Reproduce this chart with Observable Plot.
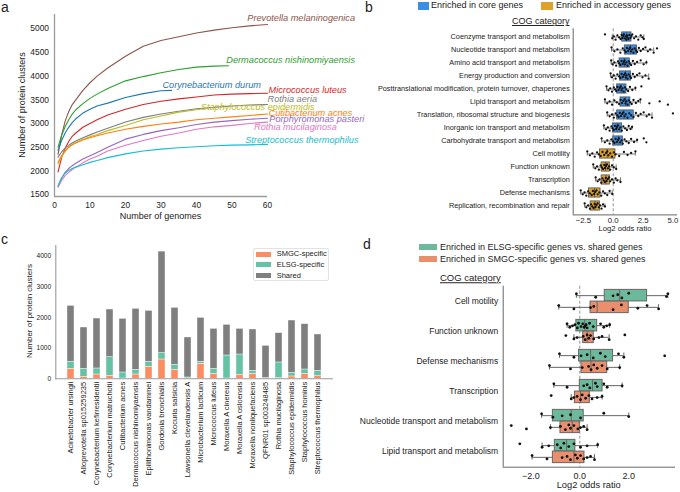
<!DOCTYPE html>
<html><head><meta charset="utf-8">
<script src="https://cdn.jsdelivr.net/npm/d3@7"></script>
<script src="https://cdn.jsdelivr.net/npm/@observablehq/plot@0.6"></script>
<style>
body{margin:0;background:#fff;font-family:"Liberation Sans",Arial,sans-serif;color:#222;}
#fig{position:relative;width:680px;height:492px;overflow:hidden;background:#fff;}
.abs{position:absolute;white-space:nowrap;line-height:1;}
.panel{position:absolute;}
.panel svg{overflow:visible;display:block;}
</style></head><body><div id="fig"></div>
<script>
// ---------- Panel a: accumulation curves ----------
const speciesA = ["Prevotella melaninogenica","Dermacoccus nishinomiyaensis","Corynebacterium durum","Micrococcus luteus","Rothia aeria","Staphylococcus epidermidis","Cutibacterium acnes","Porphyromonas pasteri","Rothia mucilaginosa","Streptococcus thermophilus"];
const colorsA = ["#8c564b","#2ca02c","#1f77b4","#d62728","#7f7f7f","#bcbd22","#ff7f0e","#9467bd","#e377c2","#17becf"];
const curveX = [1,2,3,4,5,6,8,10,12,15,20,25,30,35,40,45,50,55,60];
const maxGenomes = [60,49,33,60,60,41,60,60,60,60];
const prevotellaY = [2350,2750,3050,3250,3400,3500,3700,3860,4000,4170,4420,4630,4750,4830,4910,4970,5020,5060,5090];
const dermacoccusY = [2500,2750,2930,3080,3200,3290,3420,3530,3620,3740,3900,3990,4070,4140,4190,4210,4220];
const corynebacteriumY = [2430,2640,2800,2920,3020,3100,3220,3300,3370,3430,3550,3630,3690,3700];
const micrococcusY = [1980,2280,2480,2620,2730,2800,2920,3000,3080,3180,3300,3400,3470,3520,3560,3600,3620,3630,3640];
const rothiaAeriaY = [2290,2400,2480,2540,2590,2630,2700,2760,2820,2900,3030,3130,3200,3260,3310,3340,3370,3390,3400];
const staphEpiY = [2150,2300,2420,2500,2560,2600,2670,2720,2770,2850,2960,3080,3160,3240,3290,3295];
const cutibacteriumY = [2180,2320,2420,2500,2550,2590,2650,2700,2740,2800,2880,2940,2990,3030,3080,3110,3140,3170,3200];
const porphyromonasY = [1660,1850,1970,2050,2110,2160,2250,2320,2390,2500,2670,2770,2850,2910,2980,3030,3060,3090,3110];
const rothiaMucY = [1660,1800,1900,1970,2030,2080,2170,2250,2310,2420,2540,2640,2730,2800,2880,2930,2960,3000,3030];
const streptococcusY = [1690,1850,1950,2010,2050,2080,2130,2180,2220,2280,2360,2420,2460,2490,2510,2530,2545,2550,2560];
const curvesA = [prevotellaY,dermacoccusY,corynebacteriumY,micrococcusY,rothiaAeriaY,staphEpiY,cutibacteriumY,porphyromonasY,rothiaMucY,streptococcusY];
const labelXA = [54.3,48.4,30.4,60.3,60.0,41.2,60.3,60.5,56.2,53.7];
const labelYA = [5232,4330,3817,3712,3513,3344,3226,3091,2922,2656];
const aXDomain = [0,60];
const aYDomain = [1460,5300];
const aXTicks = [0,10,20,30,40,50,60];
const aYTicks = [1500,2000,2500,3000,3500,4000,4500,5000];

// ---------- Panel b: COG enrichment core vs accessory ----------
const cogB = ["Coenzyme transport and metabolism","Nucleotide transport and metabolism","Amino acid transport and metabolism","Energy production and conversion","Posttranslational modification, protein turnover, chaperones","Lipid transport and metabolism","Translation, ribosomal structure and biogenesis","Inorganic ion transport and metabolism","Carbohydrate transport and metabolism","Cell motility","Function unknown","Transcription","Defense mechanisms","Replication, recombination and repair"];
const groupB = ["Enriched in core genes","Enriched in core genes","Enriched in core genes","Enriched in core genes","Enriched in core genes","Enriched in core genes","Enriched in core genes","Enriched in core genes","Enriched in core genes","Enriched in accessory genes","Enriched in accessory genes","Enriched in accessory genes","Enriched in accessory genes","Enriched in accessory genes"];
const groupsB = ["Enriched in core genes","Enriched in accessory genes"];
const colorsB = ["#3b8ee2","#dea12a"];
const bQ1 = [0.75,0.97,0.53,0.56,0.33,0.61,0.33,-0.03,0.0,-1.11,-0.97,-0.97,-2.03,-1.89];
const bMed = [1.11,1.44,0.94,1.03,0.67,1.03,0.89,0.33,0.42,-0.5,-0.64,-0.61,-1.56,-1.53];
const bQ3 = [1.53,2.0,1.39,1.5,1.11,1.44,1.72,0.75,0.81,0.19,-0.28,-0.28,-1.06,-1.11];
const bLo = [-0.08,-0.14,-0.17,-0.22,-0.56,-0.69,-0.5,-0.78,-0.97,-2.17,-1.67,-1.47,-2.72,-2.39];
const bHi = [2.56,3.39,2.78,2.97,1.86,2.28,3.25,1.58,2.0,1.86,0.25,0.61,-0.08,-0.69];
const bPoints = [
 [-0.69,-0.08,0.05,0.2,0.35,0.5,0.62,0.7,0.78,0.85,0.9,0.98,1.05,1.1,1.15,1.2,1.28,1.35,1.45,1.52,1.6,1.75,1.9,2.1,2.3,2.45,2.56],
 [-0.14,0.1,0.35,0.6,0.8,0.95,1.05,1.15,1.25,1.35,1.42,1.5,1.6,1.7,1.8,1.9,2.0,2.15,2.3,2.5,2.7,2.9,3.1,3.39,3.67],
 [-0.17,-0.05,0.1,0.25,0.4,0.5,0.6,0.7,0.8,0.88,0.95,1.0,1.1,1.2,1.3,1.38,1.5,1.65,1.8,2.0,2.3,2.55,2.78],
 [-0.22,-0.1,0.05,0.2,0.35,0.5,0.6,0.7,0.8,0.9,1.0,1.05,1.12,1.2,1.3,1.4,1.5,1.65,1.8,2.0,2.2,2.45,2.7,2.97],
 [-0.56,-0.4,-0.25,-0.1,0.05,0.15,0.25,0.35,0.45,0.55,0.62,0.7,0.78,0.88,0.98,1.1,1.25,1.4,1.6,1.86,2.36],
 [-0.69,-0.5,-0.3,-0.1,0.1,0.3,0.5,0.62,0.75,0.85,0.95,1.03,1.1,1.2,1.3,1.42,1.55,1.7,1.9,2.1,2.28,3.03,3.89,4.58],
 [-0.5,-0.3,-0.1,0.05,0.2,0.35,0.45,0.55,0.65,0.75,0.85,0.95,1.05,1.2,1.35,1.5,1.7,1.9,2.1,2.3,2.55,2.8,3.0,3.25,5.0],
 [-0.78,-0.6,-0.45,-0.3,-0.15,-0.05,0.05,0.15,0.25,0.32,0.4,0.5,0.6,0.72,0.85,1.0,1.15,1.3,1.45,1.58],
 [-0.97,-0.7,-0.5,-0.3,-0.15,0.0,0.1,0.2,0.3,0.4,0.48,0.58,0.7,0.8,0.95,1.1,1.3,1.5,1.75,2.0,2.56,2.78],
 [-2.17,-1.95,-1.75,-1.55,-1.35,-1.2,-1.05,-0.9,-0.75,-0.6,-0.5,-0.4,-0.25,-0.1,0.05,0.2,0.5,0.9,1.2,1.5,1.86],
 [-1.67,-1.5,-1.35,-1.2,-1.05,-0.95,-0.85,-0.75,-0.68,-0.6,-0.52,-0.45,-0.35,-0.25,-0.1,0.05,0.25],
 [-1.47,-1.3,-1.15,-1.0,-0.9,-0.8,-0.7,-0.62,-0.55,-0.45,-0.35,-0.25,-0.1,0.05,0.2,0.35,0.61],
 [-2.72,-2.55,-2.4,-2.25,-2.1,-1.95,-1.8,-1.7,-1.6,-1.5,-1.4,-1.3,-1.15,-1.0,-0.85,-0.7,-0.5,-0.3,-0.08],
 [-2.39,-2.25,-2.1,-1.95,-1.85,-1.75,-1.65,-1.55,-1.48,-1.4,-1.3,-1.2,-1.1,-0.98,-0.85,-0.69]
];
const bXDomain = [-3.35,5.3];
const bXTicks = [-2.5,0,2.5,5];

// ---------- Panel c: stacked bars ----------
const speciesC = ["Acinetobacter ursingii","Alloprevotella sp015259235","Corynebacterium kefirresidentii","Corynebacterium matruchotii","Cutibacterium acnes","Dermacoccus nishinomiyaensis","Epilithonimonas vandammei","Gordonia bronchialis","Kocuria salsicia","Lawsonella clevelandensis A","Microbacterium lacticum","Micrococcus luteus","Moraxella A cinereus","Moraxella A osloensis","Moraxella nonliquefaciens","QFNR01 sp003248485","Rothia mucilaginosa","Staphylococcus epidermidis","Staphylococcus hominis","Streptococcus thermophilus"];
const smgcC = [326,65,141,98,10,141,391,630,293,10,489,163,10,130,163,0,20,76,163,87];
const elsgC = [228,261,196,608,196,152,163,210,163,33,65,163,751,663,98,25,513,120,141,174];
const sharedC = [1826,1348,1630,1555,1751,1990,1663,3312,1859,1305,1435,1304,1000,837,1348,1050,956,1706,1479,1185];
const partsC = ["SMGC-specific","ELSG-specific","Shared"];
const colorsC = ["#fc8d62","#66c2a5","#7f7f7f"];
const cYDomain = [0,4350];
const cYTicks = [0,1000,2000,3000,4000];

// ---------- Panel d: ELSG / SMGC specific vs shared ----------
const cogD = ["Cell motility","Function unknown","Defense mechanisms","Transcription","Nucleotide transport and metabolism","Lipid transport and metabolism"];
const groupsD = ["Enriched in ELSG-specific genes vs. shared genes","Enriched in SMGC-specific genes vs. shared genes"];
const colorsD = ["#6cb99c","#ea8f6e"];
const elsgQ1 = [1.02,-0.14,-0.03,0.0,-1.1,-1.02];
const elsgMed = [1.63,0.2,0.44,0.52,-0.35,-0.54];
const elsgQ3 = [2.75,0.71,1.36,0.93,0.16,-0.18];
const elsgLo = [-0.14,-0.52,-0.83,-1.06,-1.56,-1.54];
const elsgHi = [3.6,1.22,1.8,1.73,2.0,0.73];
const smgcQ1 = [0.44,0.14,0.07,-0.2,-0.79,-1.1];
const smgcMed = [0.71,0.3,0.46,0.03,-0.31,-0.24];
const smgcQ3 = [2.0,0.57,1.12,0.41,0.0,0.19];
const smgcLo = [-0.86,-0.24,-1.24,-0.35,-1.2,-1.95];
const smgcHi = [3.22,1.2,1.63,0.91,0.3,0.6];
const elsgPoints = [
 [-0.14,0.65,1.36,1.55,1.72,2.0,3.54,3.6],
 [-0.52,-0.41,-0.3,-0.2,-0.1,-0.05,0.05,0.12,0.18,0.22,0.26,0.3,0.4,0.55,0.85,0.98,1.1,1.22],
 [-0.83,-0.24,0.05,0.3,0.55,0.84,1.04,1.58,1.8,3.47],
 [-1.06,-0.52,0.16,0.3,0.41,0.64,0.71,0.98,1.12,1.73],
 [-1.56,-1.1,-0.72,-0.38,0.03,0.98,2.0],
 [-2.45,-1.54,-1.27,-0.92,-0.78,-0.65,-0.45,-0.24,0.03,0.3,0.73]
];
const smgcPoints = [
 [-0.86,-0.24,0.44,0.57,1.36,1.7,2.37,2.75,3.22],
 [-0.57,-0.24,-0.11,0.14,0.22,0.3,0.37,0.44,0.57,0.78,0.91,1.2,1.84],
 [-1.24,-0.38,0.1,0.36,0.46,0.57,0.71,0.91,1.12,1.63],
 [-1.17,-0.35,-0.24,-0.11,0.03,0.1,0.24,0.37,0.5,0.71,0.91],
 [-2.8,-2.18,-1.2,-0.79,-0.59,-0.45,-0.38,-0.24,-0.08,0.03,0.16,0.3],
 [-1.95,-1.34,-0.72,-0.52,-0.38,-0.18,-0.1,0.03,0.16,0.3,0.44,0.6]
];
const dXDomain = [-3.13,3.87];
const dXTicks = [-2,0,2];

// ================= rendering =================
const FF = '"Liberation Sans", Arial, sans-serif';
const fig = document.getElementById("fig");
function place(svg, left, top){ const w=document.createElement("div"); w.className="panel"; w.style.left=left+"px"; w.style.top=top+"px"; w.appendChild(svg); fig.appendChild(w); }
function txt(text, x, y, css, center){ const d=document.createElement("div"); d.className="abs"; d.textContent=text; d.style.left=x+"px"; d.style.top=y+"px"; if(center) d.style.transform="translate(-50%,-50%)"; Object.assign(d.style, css||{}); fig.appendChild(d); return d; }
function rect(x,y,w,h,color){ const d=document.createElement("div"); d.className="abs"; Object.assign(d.style,{left:x+"px",top:y+"px",width:w+"px",height:h+"px",background:color}); fig.appendChild(d); return d; }
const baseStyle = {fontFamily:FF, color:"#222", overflow:"visible", background:"transparent"};
const intFmt = d3.format("d");

// ---- a ----
const curveRows = [];
speciesA.forEach((s,k)=>{ const ys=curvesA[k]; ys.forEach((v,i)=>{ const last = i===ys.length-1; curveRows.push({species:s, genomes: last ? maxGenomes[k] : curveX[i], clusters:v}); }); });
const labelRows = speciesA.map((s,k)=>({species:s, x:labelXA[k], y:labelYA[k]}));
const plotA = Plot.plot({
  width:340, height:225, marginLeft:54, marginRight:73, marginTop:14, marginBottom:29,
  style:{...baseStyle, fontSize:"8.4px"},
  x:{domain:aXDomain}, y:{domain:aYDomain},
  color:{domain:speciesA, range:colorsA},
  marks:[
    Plot.ruleX([aXDomain[0]],{stroke:"#9a9a9a",strokeWidth:1.3}),
    Plot.ruleY([aYDomain[0]],{stroke:"#9a9a9a",strokeWidth:1.3}),
    Plot.axisX({ticks:aXTicks, tickSize:0, tickPadding:6, label:null, fontSize:8.4, tickFormat:intFmt}),
    Plot.axisY({ticks:aYTicks, tickSize:0, tickPadding:5.5, label:null, fontSize:8.4, tickFormat:intFmt}),
    Plot.line(curveRows,{x:"genomes",y:"clusters",z:"species",stroke:"species",strokeWidth:1.1}),
    Plot.text(labelRows,{x:"x",y:"y",text:"species",fill:"species",textAnchor:"start",fontStyle:"italic",fontSize:9.2})
  ]
});
place(plotA,0,0);
txt("Number of genomes",160.5,216,{fontSize:"9px"},true);
txt("Number of protein clusters",22,105,{fontSize:"9px",transform:"translate(-50%,-50%) rotate(-90deg)"});

// ---- b ----
const bRows = cogB.map((c,i)=>({cat:c, grp:groupB[i], q1:bQ1[i], med:bMed[i], q3:bQ3[i], lo:bLo[i], hi:bHi[i]}));
const bDots = [];
bPoints.forEach((pts,i)=>pts.forEach((v,j)=>bDots.push({cat:cogB[i], v, j})));
const jitB = [-2.6,1.3,-0.6,2.7,-1.6,0.4,2.0,-2.0,1.0,-1.1];
const bBoxInset = 1.9, bCapInset = 4.4;
const bDotMarks = jitB.map((dy,g)=>Plot.dot(bDots.filter(d=>d.j%jitB.length===g),{x:"v",y:"cat",dy,r:1.15,fill:"#111",stroke:"none"}));
const plotB = Plot.plot({
  width:340, height:240, marginLeft:232.7, marginRight:4, marginTop:28.3, marginBottom:25.6,
  style:{...baseStyle, fontSize:"7.3px"},
  x:{domain:bXDomain}, y:{domain:cogB, padding:0},
  color:{domain:groupsB, range:colorsB},
  marks:[
    Plot.ruleX([0],{stroke:"#777",strokeWidth:0.8,strokeDasharray:"3,2"}),
    Plot.ruleY(bRows,{y:"cat",x1:"lo",x2:"q1",stroke:"#555",strokeWidth:0.8}),
    Plot.ruleY(bRows,{y:"cat",x1:"q3",x2:"hi",stroke:"#555",strokeWidth:0.8}),
    Plot.tickX(bRows,{x:"lo",y:"cat",stroke:"#555",strokeWidth:0.8,insetTop:bCapInset,insetBottom:bCapInset}),
    Plot.tickX(bRows,{x:"hi",y:"cat",stroke:"#555",strokeWidth:0.8,insetTop:bCapInset,insetBottom:bCapInset}),
    Plot.barX(bRows,{x1:"q1",x2:"q3",y:"cat",fill:"grp",stroke:"#555",strokeWidth:0.8,insetTop:bBoxInset,insetBottom:bBoxInset}),
    Plot.tickX(bRows,{x:"med",y:"cat",stroke:"#555",strokeWidth:0.9,insetTop:bBoxInset,insetBottom:bBoxInset}),
    ...bDotMarks,
    Plot.ruleX([bXDomain[0]],{stroke:"#666",strokeWidth:1}),
    Plot.frame({anchor:"bottom",stroke:"#666",strokeWidth:1}),
    Plot.axisX({ticks:bXTicks, tickSize:0, tickPadding:3, label:null, fontSize:7.8, tickFormat:d3.format(".1f")}),
    Plot.axisY({tickSize:0, tickPadding:3.4, label:null, fontSize:7.3})
  ]
});
place(plotB,340,0);
txt("b",365,0,{fontSize:"14px"});
rect(418,2,11,8,colorsB[0]);
txt(groupsB[0],431,1.2,{fontSize:"9px"});
rect(541,2,12,8,colorsB[1]);
txt(groupsB[1],556,1.2,{fontSize:"9px"});
txt("COG category",512,17.3,{fontSize:"9px",textDecoration:"underline"});
txt("Log2 odds ratio",625,229,{fontSize:"7.7px"},true);

// ---- c ----
const cRows = [];
speciesC.forEach((s,i)=>{ cRows.push({sp:s,part:partsC[0],n:smgcC[i]}); cRows.push({sp:s,part:partsC[1],n:elsgC[i]}); cRows.push({sp:s,part:partsC[2],n:sharedC[i]}); });
const plotC = Plot.plot({
  width:340, height:262, marginLeft:55.3, marginRight:7, marginTop:15, marginBottom:113.7,
  style:{...baseStyle, fontSize:"7.5px"},
  x:{domain:speciesC, paddingInner:0.5, paddingOuter:0.25},
  y:{domain:cYDomain},
  color:{domain:partsC, range:colorsC},
  marks:[
    Plot.barY(cRows,{x:"sp",y:"n",fill:"part",stroke:"#fff",strokeWidth:0.4}),
    Plot.frame({anchor:"left",stroke:"#9a9a9a",strokeWidth:1.1}),
    Plot.ruleY([cYDomain[0]],{stroke:"#9a9a9a",strokeWidth:1.1}),
    Plot.axisX({tickRotate:-90, tickSize:0, tickPadding:3, label:null, fontSize:7.5}),
    Plot.axisY({ticks:cYTicks, tickSize:0, tickPadding:4.6, label:null, fontSize:6.6, tickFormat:intFmt})
  ]
});
place(plotC,0,230);
txt("c",1,232,{fontSize:"14px"});
txt("Number of protein clusters",30,311,{fontSize:"8px",transform:"translate(-50%,-50%) rotate(-90deg)"});
const leg = document.createElement("div"); leg.className="abs";
Object.assign(leg.style,{left:"252.7px",top:"248.3px",width:"76px",height:"33px",border:"1px solid #e2e2e2",borderRadius:"2px",background:"#fff",boxSizing:"border-box"});
fig.appendChild(leg);
partsC.forEach((p,i)=>{ const yc=[254.3,264.7,275.7][i]; rect(256,yc-2.3,14.5,4.6,colorsC[i]); txt(p,276.7,yc,{fontSize:"7.5px",transform:"translateY(-50%)"}); });

// ---- d ----
const dRows = cogD.map((c,i)=>({cat:c, e1:elsgQ1[i], em:elsgMed[i], e3:elsgQ3[i], elo:elsgLo[i], ehi:elsgHi[i], s1:smgcQ1[i], sm:smgcMed[i], s3:smgcQ3[i], slo:smgcLo[i], shi:smgcHi[i]}));
const half = 181/6/2, boxH = 11.7, off = 5.85, capH = 5.5;
const eBoxT = half-boxH, eBoxB = half;
const sBoxT = half, sBoxB = half-boxH;
const eCapT = half-off-capH/2, eCapB = half+off-capH/2;
const sCapT = half+off-capH/2, sCapB = half-off-capH/2;
const eDots = [], sDots = [];
elsgPoints.forEach((pts,i)=>pts.forEach((v,j)=>eDots.push({cat:cogD[i],v,j})));
smgcPoints.forEach((pts,i)=>pts.forEach((v,j)=>sDots.push({cat:cogD[i],v,j})));
const jitD = [-1.8,1.6,0.2,-0.9,2.3,-2.4,0.9];
const dDotMarks = [];
jitD.forEach((dy,g)=>{
  dDotMarks.push(Plot.dot(eDots.filter(d=>d.j%jitD.length===g),{x:"v",y:"cat",dy:-off+dy,r:1.4,fill:"#111",stroke:"none"}));
  dDotMarks.push(Plot.dot(sDots.filter(d=>d.j%jitD.length===g),{x:"v",y:"cat",dy:off+dy,r:1.4,fill:"#111",stroke:"none"}));
});
const edge = "#666";
const plotD = Plot.plot({
  width:340, height:252, marginLeft:162.7, marginRight:6, marginTop:45.7, marginBottom:25.3,
  style:{...baseStyle, fontSize:"8.5px"},
  x:{domain:dXDomain}, y:{domain:cogD, padding:0},
  marks:[
    Plot.ruleX([0],{stroke:"#777",strokeWidth:0.8,strokeDasharray:"3,2"}),
    Plot.ruleY(dRows,{y:"cat",x1:"elo",x2:"e1",dy:-off,stroke:edge,strokeWidth:1}),
    Plot.ruleY(dRows,{y:"cat",x1:"e3",x2:"ehi",dy:-off,stroke:edge,strokeWidth:1}),
    Plot.ruleY(dRows,{y:"cat",x1:"slo",x2:"s1",dy:off,stroke:edge,strokeWidth:1}),
    Plot.ruleY(dRows,{y:"cat",x1:"s3",x2:"shi",dy:off,stroke:edge,strokeWidth:1}),
    Plot.tickX(dRows,{x:"elo",y:"cat",stroke:edge,insetTop:eCapT,insetBottom:eCapB}),
    Plot.tickX(dRows,{x:"ehi",y:"cat",stroke:edge,insetTop:eCapT,insetBottom:eCapB}),
    Plot.tickX(dRows,{x:"slo",y:"cat",stroke:edge,insetTop:sCapT,insetBottom:sCapB}),
    Plot.tickX(dRows,{x:"shi",y:"cat",stroke:edge,insetTop:sCapT,insetBottom:sCapB}),
    Plot.barX(dRows,{x1:"e1",x2:"e3",y:"cat",fill:colorsD[0],stroke:edge,strokeWidth:1,insetTop:eBoxT,insetBottom:eBoxB}),
    Plot.barX(dRows,{x1:"s1",x2:"s3",y:"cat",fill:colorsD[1],stroke:edge,strokeWidth:1,insetTop:sBoxT,insetBottom:sBoxB}),
    Plot.tickX(dRows,{x:"em",y:"cat",stroke:edge,strokeWidth:1,insetTop:eBoxT,insetBottom:eBoxB}),
    Plot.tickX(dRows,{x:"sm",y:"cat",stroke:edge,strokeWidth:1,insetTop:sBoxT,insetBottom:sBoxB}),
    ...dDotMarks,
    Plot.ruleX([dXDomain[0]],{stroke:"#666",strokeWidth:1}),
    Plot.frame({anchor:"bottom",stroke:"#666",strokeWidth:1}),
    Plot.axisX({ticks:dXTicks, tickSize:0, tickPadding:5, label:null, fontSize:9}),
    Plot.axisY({tickSize:0, tickPadding:5, label:null, fontSize:8.5})
  ]
});
place(plotD,340,240);
txt("d",363,237,{fontSize:"14px"});
rect(419,243.7,17.7,6,colorsD[0]);
txt(groupsD[0],440,246.7,{fontSize:"9px",transform:"translateY(-50%)"});
rect(419,256.3,17.7,6,colorsD[1]);
txt(groupsD[1],440,259.3,{fontSize:"9px",transform:"translateY(-50%)"});
txt("COG category",440,277.7,{fontSize:"9.5px",textDecoration:"underline",transform:"translateY(-50%)"});
txt("Log2 odds ratio",588.7,485.7,{fontSize:"9.3px"},true);
txt("a",1,0,{fontSize:"14px"});
</script>
</body></html>
